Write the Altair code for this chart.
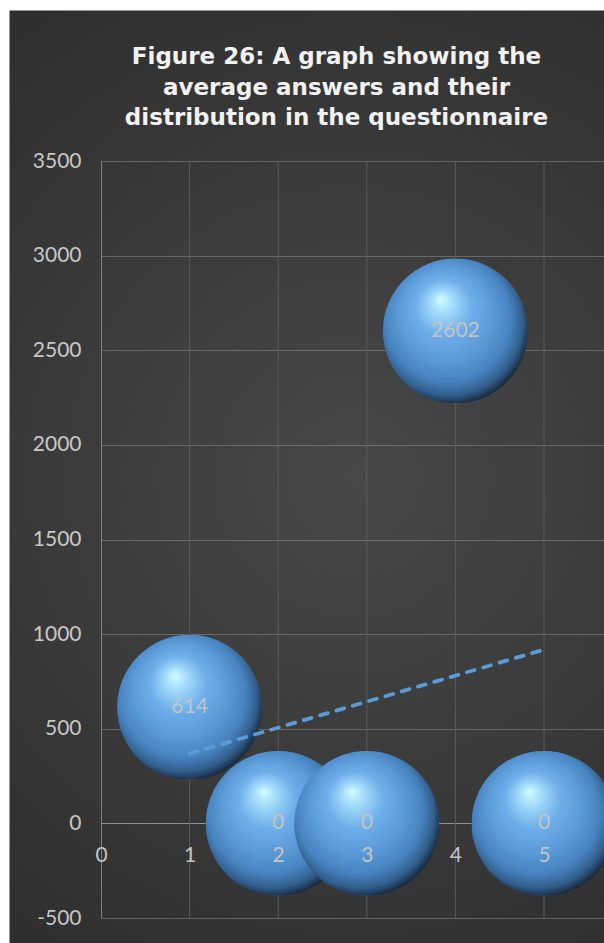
import altair as alt
import pandas as pd

# ---- data ----
x_vals = [1, 2, 3, 4, 5]
y_vals = [614, 0, 0, 2602, 0]
labels = ["614", "0", "0", "2602", "0"]
x_ticks = [0, 1, 2, 3, 4, 5]
y_ticks = [-500, 0, 500, 1000, 1500, 2000, 2500, 3000, 3500]
title_lines = [
    "Figure 26: A graph showing the",
    "average answers and their",
    "distribution in the questionnaire",
]

df = pd.DataFrame({"x": x_vals, "y": y_vals, "label": labels})
ticks_df = pd.DataFrame({"t": x_ticks})

W, H = 595, 933
FONT = "Lato"
FS = 21
LBL = "#c4c4c4"
GRID = "#5a5a5a"

x_scale = alt.Scale(domain=[0, 6], range=[92, 92 + 6 * 88.6], nice=False, zero=False)
y_scale = alt.Scale(domain=[-500, 3500], range=[908, 151], nice=False, zero=False)

sphere = {
    "gradient": "radial",
    "x1": 0.4, "y1": 0.28, "r1": 0,
    "x2": 0.46, "y2": 0.45, "r2": 0.56,
    "stops": [
        {"offset": 0.0, "color": "#d0fdff"},
        {"offset": 0.15, "color": "#9fd8f8"},
        {"offset": 0.35, "color": "#6eaeea"},
        {"offset": 0.58, "color": "#5a9ad6"},
        {"offset": 0.78, "color": "#4783c0"},
        {"offset": 0.91, "color": "#325e8a"},
        {"offset": 1.0, "color": "#172a40"},
    ],
}

glow = {
    "gradient": "radial",
    "x1": 0.55, "y1": 0.5, "r1": 0,
    "x2": 0.55, "y2": 0.5, "r2": 0.72,
    "stops": [
        {"offset": 0.0, "color": "rgba(255,255,255,0.14)"},
        {"offset": 0.5, "color": "rgba(255,255,255,0.07)"},
        {"offset": 1.0, "color": "rgba(255,255,255,0)"},
    ],
}

grid_cond = {"condition": {"test": "datum.value === 0", "value": "#8a8a8a"}, "value": GRID}

background = alt.Chart(pd.DataFrame({"bg": [0]})).mark_rect(fill=glow, strokeWidth=0).encode(
    x=alt.value(0), x2=alt.value("width"), y=alt.value(0), y2=alt.value("height"),
)

vgrid = alt.Chart(ticks_df).transform_filter("datum.t > 0").mark_rule(
    color=GRID, strokeWidth=1
).encode(
    x=alt.X("t:Q", scale=x_scale, axis=None),
    y=alt.datum(-500, scale=y_scale),
    y2=alt.datum(3500),
)

bubbles = alt.Chart(df).mark_circle(size=21025, fill=sphere, opacity=1, strokeWidth=0).encode(
    x=alt.X("x:Q", scale=x_scale, axis=None),
    y=alt.Y("y:Q", scale=y_scale, axis=alt.Axis(
        orient="left", values=y_ticks, grid=True, gridColor=grid_cond, gridWidth=1,
        domain=True, domainColor="#7a7a7a", domainWidth=1, ticks=False, tickSize=0,
        labelPadding=20, labelFontSize=FS, labelColor=LBL, labelFont=FONT,
        labelExpr="'' + datum.value", labelFlush=False, offset=-92, title=None)),
)

trend = alt.Chart(df).transform_regression("x", "y", method="linear").mark_line(
    stroke="#5b9bd5", strokeWidth=3.8, strokeDash=[8, 9], strokeCap="round"
).encode(
    x=alt.X("x:Q", scale=x_scale, axis=None),
    y=alt.Y("y:Q", scale=y_scale),
)

text = alt.Chart(df).mark_text(font=FONT, fontSize=FS, color=LBL).encode(
    x=alt.X("x:Q", scale=x_scale, axis=alt.Axis(
        orient="bottom", values=x_ticks, grid=False, domain=False, ticks=False, tickSize=0,
        labelPadding=21, labelFontSize=FS, labelColor=LBL, labelFont=FONT,
        labelFlush=False, offset=-120, zindex=1, title=None)),
    y=alt.Y("y:Q", scale=y_scale),
    text="label:N",
)

chart = alt.layer(background, vgrid, bubbles, trend, text).resolve_axis(x="independent").properties(
    width=W,
    height=H,
    title=alt.TitleParams(
        text=title_lines, font="DejaVu Sans", fontSize=23, fontWeight="bold",
        color="#f2f2f2", lineHeight=30.5, anchor="middle", dx=30, offset=-120,
    ),
    padding={"left": 9, "top": 10, "right": 0, "bottom": 0},
    autosize=alt.AutoSizeParams(type="none"),
    background="white",
).configure_view(fill="#2a2a2a", stroke="transparent")

chart.save("out.html", embed_options={"renderer": "svg", "actions": False})
